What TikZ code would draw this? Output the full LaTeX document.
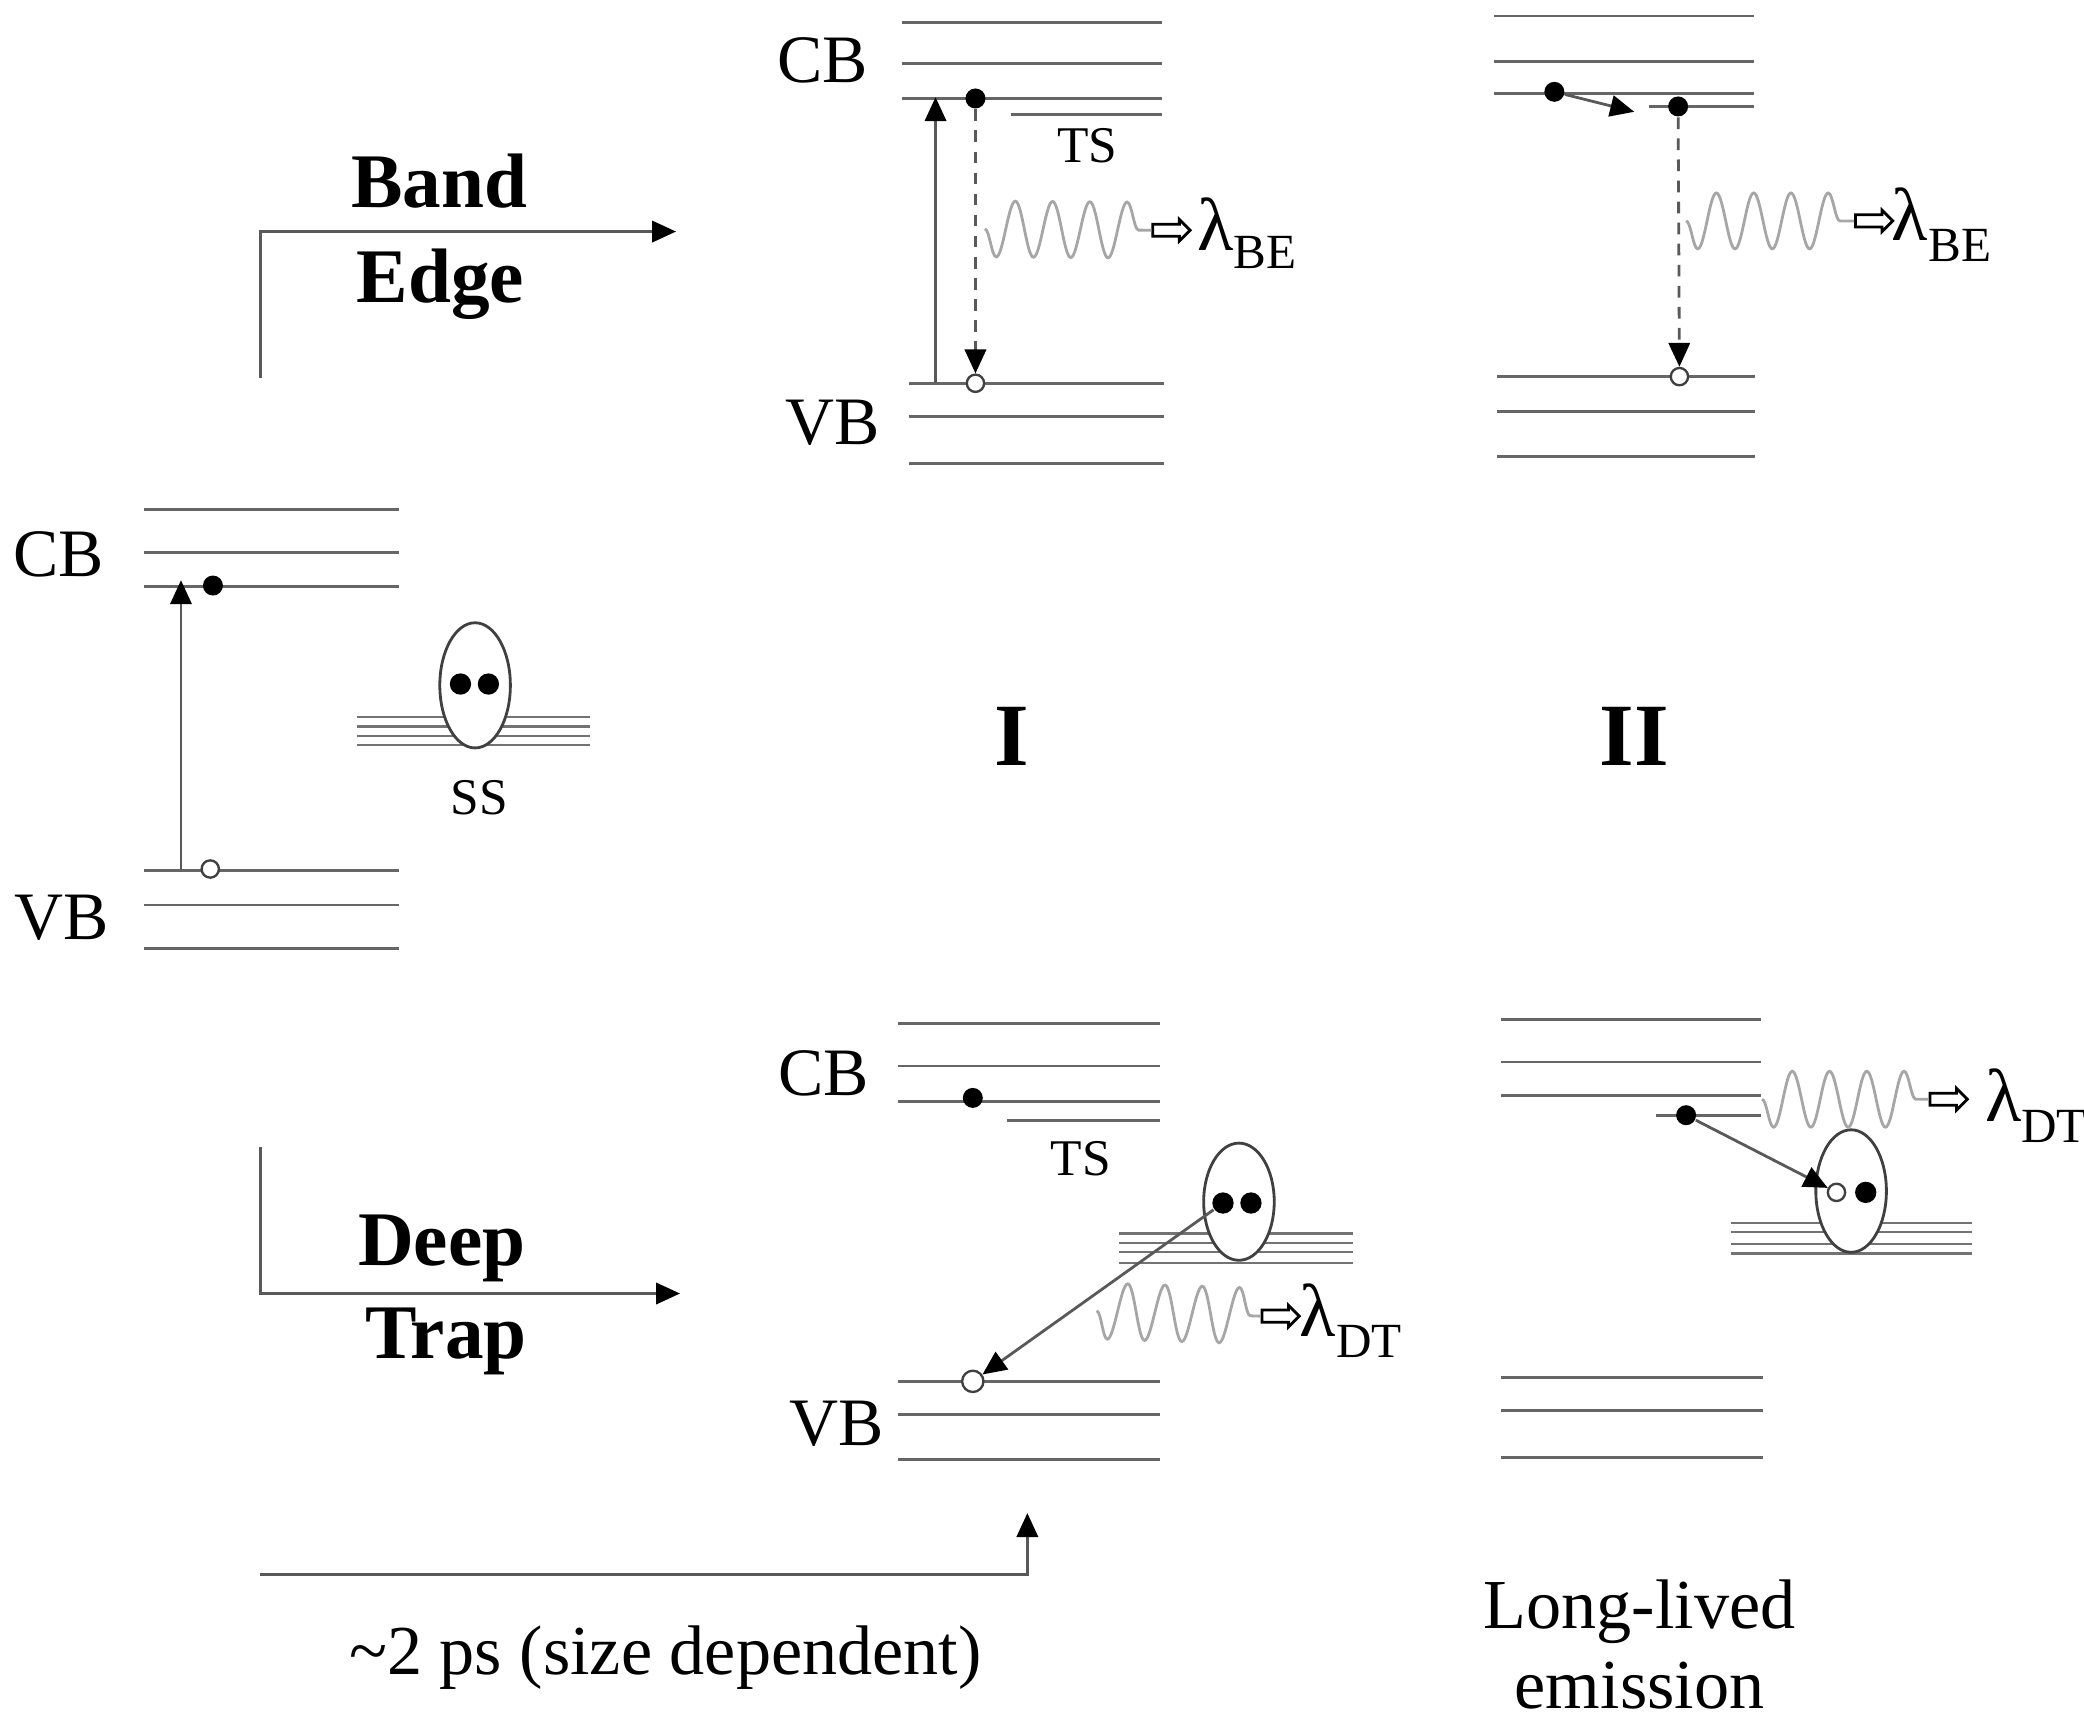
\documentclass[tikz,border=0pt]{standalone}
\usepackage{fontspec}
\setmainfont{Liberation Serif}
\usetikzlibrary{arrows.meta,shapes.geometric,shapes.arrows,decorations.pathmorphing}

\begin{document}
\begin{tikzpicture}[
					x=0.01cm, y=-0.01cm,
					bandline/.style={draw=black!60, line width=0.6pt},
					trapline/.style={draw=black!55, line width=0.5pt},
					electron/.style={circle, fill=black, inner sep=0pt, minimum size=0.15cm},
					hole/.style={circle, draw=black!75, fill=white, line width=0.5pt, inner sep=0pt, minimum size=0.13cm},
					trapsite/.style={ellipse, draw=black!75, fill=white, line width=0.6pt, inner sep=0pt, minimum width=0.53cm},
					transition/.style={draw=black!65, line width=0.6pt, -{Triangle[length=0.18cm, width=0.16cm, color=black]}},
					relax/.style={transition, dash pattern=on 2.5pt off 2pt},
					photon/.style={draw=black!35, line width=0.6pt, decorate, decoration={snake, segment length=0.28cm, amplitude=0.21cm, mirror}},
					emit/.style={single arrow, draw=black, fill=white, line width=0.6pt, inner xsep=0pt, inner ysep=0.035cm, single arrow head extend=0.035cm, minimum height=0.28cm},
					bandname/.style={font=\fontsize{14.5}{14.5}\selectfont, inner sep=0pt, anchor=base},
					statename/.style={font=\fontsize{11}{11}\selectfont, inner sep=0pt, anchor=base},
					routename/.style={font=\fontsize{16.5}{16.5}\selectfont\bfseries, inner sep=0pt, anchor=base},
					stagename/.style={font=\fontsize{19}{19}\selectfont\bfseries, inner sep=0pt, anchor=base},
					caption/.style={font=\fontsize{15}{15}\selectfont, inner sep=0pt, anchor=base},
					wavelength/.style={font=\fontsize{16}{16}\selectfont, inner sep=0pt, anchor=base west}]
					\useasboundingbox (0,0) rectangle (1566,1294);

					% initial excitation
					\foreach \y in {383,415,441,654,680,713}
						\draw[bandline] (108,\y) -- (300,\y);
					\foreach \y in {539,546,553,560}
						\draw[trapline] (268,\y) -- (443,\y);
					\node[bandname] (cb0) at (44,433) {CB};
					\node[bandname] (vb0) at (46,706) {VB};
					\node[trapsite, minimum height=0.94cm] (ss0) at (357,515) {};
					\node[electron, minimum size=0.16cm] (s0a) at (346,514) {};
					\node[electron, minimum size=0.16cm] (s0b) at (367,514) {};
					\node[statename] (ssname) at (360,612) {SS};
					\node[electron] (e0) at (160,440) {};
					\node[hole] (h0) at (158,653) {};
					\coordinate (up0) at (136,654);
					\coordinate (top0) at (136,436);
					\draw[transition] (up0) -- (top0);

					% routes
					\coordinate (beFrom) at (196,284);
					\coordinate (beTo) at (508,174);
					\draw[transition] (beFrom) |- (beTo);
					\node[routename] (band) at (330,156) {Band};
					\node[routename] (edge) at (331,227) {Edge};
					\coordinate (dtFrom) at (196,862);
					\coordinate (dtTo) at (511,972);
					\draw[transition] (dtFrom) |- (dtTo);
					\node[routename] (deep) at (332,951) {Deep};
					\node[routename] (trap) at (335,1021) {Trap};
					\coordinate (psFrom) at (195,1183);
					\coordinate (psTo) at (772,1137);
					\draw[transition] (psFrom) -| (psTo);
					\node[caption] (pstime) at (500,1258) {\textasciitilde2 ps (size dependent)};

					% stage I, band edge
					\foreach \y in {17,48,74}
						\draw[bandline] (678,\y) -- (873,\y);
					\draw[bandline] (760,86) -- (873,86);
					\foreach \y in {288,313,348}
						\draw[bandline] (683,\y) -- (875,\y);
					\node[bandname] (cbI) at (618,62) {CB};
					\node[bandname] (vbI) at (626,334) {VB};
					\node[statename] (tsI) at (817,122) {TS};
					\node[electron] (eI) at (733,74) {};
					\node[hole] (hI) at (733,288) {};
					\coordinate (upI) at (703,288);
					\coordinate (topI) at (703,73);
					\draw[transition] (upI) -- (topI);
					\draw[relax] (eI) -- (hI);
					\node[emit] (emI) at (878,173) {};
					\coordinate (wI) at (740,172);
					\draw[photon] (wI) -- (emI.west);
					\node[wavelength] (lamI) at (899,188) {λ\raisebox{-4pt}{\fontsize{10.5}{10.5}\selectfont BE}};

					% stage II, band edge
					\foreach \y in {12,46,70}
						\draw[bandline] (1123,\y) -- (1318,\y);
					\draw[bandline] (1239,80) -- (1318,80);
					\foreach \y in {283,309,343}
						\draw[bandline] (1125,\y) -- (1319,\y);
					\node[electron] (eIIa) at (1168,69) {};
					\node[electron] (eIIb) at (1261,80) {};
					\node[hole] (hII) at (1262,283) {};
					\coordinate (tipII) at (1228,84);
					\draw[transition] (eIIa) -- (tipII);
					\draw[relax] (eIIb) -- (hII);
					\node[emit] (emII) at (1406,166) {};
					\coordinate (wII) at (1267,166);
					\draw[photon] (wII) -- (emII.west);
					\node[wavelength] (lamII) at (1421,181) {λ\raisebox{-4.5pt}{\fontsize{10.5}{10.5}\selectfont BE}};

					\node[stagename] (stI) at (760,575) {I};
					\node[stagename] (stII) at (1228,575) {II};

					% stage I, deep trap
					\foreach \y in {769,801,828}
						\draw[bandline] (675,\y) -- (872,\y);
					\draw[bandline] (757,842) -- (872,842);
					\foreach \y in {1038,1063,1097}
						\draw[bandline] (675,\y) -- (872,\y);
					\foreach \y in {927,934,941,949}
						\draw[trapline] (841,\y) -- (1017,\y);
					\node[bandname] (cbIII) at (619,823) {CB};
					\node[bandname] (vbIII) at (629,1086) {VB};
					\node[statename] (tsIII) at (812,883) {TS};
					\node[electron] (eIII) at (731,825) {};
					\node[trapsite, minimum height=0.88cm] (ssIII) at (931,903) {};
					\node[electron, minimum size=0.16cm] (dIIIa) at (919,904) {};
					\node[electron, minimum size=0.16cm] (dIIIb) at (940,904) {};
					\node[hole, minimum size=0.16cm] (hIII) at (731,1038) {};
					\draw[transition] (dIIIa) -- (hIII);
					\node[emit] (emIII) at (960,989) {};
					\coordinate (wIII) at (824,985);
					\draw[photon] (wIII) -- (emIII.west);
					\node[wavelength] (lamIII) at (976,1004) {λ\raisebox{-4.5pt}{\fontsize{10.5}{10.5}\selectfont DT}};

					% stage II, deep trap
					\foreach \y in {766,798,823}
						\draw[bandline] (1128,\y) -- (1323,\y);
					\draw[bandline] (1244,838) -- (1323,838);
					\foreach \y in {1035,1060,1095}
						\draw[bandline] (1128,\y) -- (1325,\y);
					\foreach \y in {919,926,935,942}
						\draw[trapline] (1301,\y) -- (1482,\y);
					\node[trapsite, minimum height=0.92cm] (ssIV) at (1391,895) {};
					\node[hole] (hIV) at (1380,896) {};
					\node[electron, minimum size=0.16cm] (dIV) at (1402,896) {};
					\node[electron] (eIV) at (1267,838) {};
					\draw[transition] (eIV) -- (hIV);
					\node[emit] (emIV) at (1462,826) {};
					\coordinate (wIV) at (1324,826);
					\draw[photon] (wIV) -- (emIV.west);
					\node[wavelength] (lamIV) at (1491,843) {λ\raisebox{-4.5pt}{\fontsize{10.5}{10.5}\selectfont DT}};

					\node[caption] (longlived) at (1232,1224) {Long-lived};
					\node[caption] (emission) at (1232,1284) {emission};
				\end{tikzpicture}
\end{document}
